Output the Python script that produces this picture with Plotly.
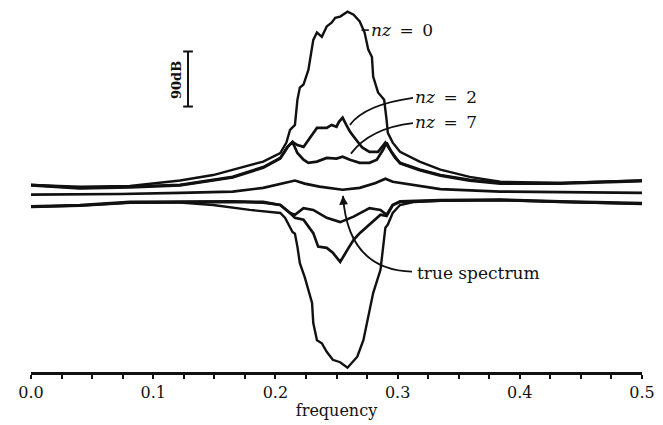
import plotly.graph_objects as go

# frequency (cycles/sample), level (dB, arbitrary offset)
nz0_upper = [(0.000,306),(0.040,303),(0.081,304),(0.122,313),(0.149,322),(0.165,331),(0.190,344),
             (0.204,358),(0.209,375),(0.212,396),(0.216,404),(0.218,445),(0.220,465),(0.223,470),
             (0.227,494),(0.231,543),(0.234,555),(0.238,548),(0.242,565),(0.246,571),(0.249,579),
             (0.253,581),(0.257,587),(0.259,589),(0.264,584),(0.269,573),(0.273,555),(0.276,527),
             (0.279,515),(0.280,483),(0.284,457),(0.287,450),(0.289,445),(0.291,412),(0.292,391),
             (0.296,375),(0.302,360),(0.318,344),(0.335,331),(0.359,319),(0.384,311),(0.433,309),
             (0.500,313)]

nz2_upper = [(0.000,306),(0.040,301),(0.081,303),(0.122,306),(0.165,319),(0.190,335),(0.204,350),
             (0.210,368),(0.214,376),(0.218,371),(0.223,368),(0.227,380),(0.231,391),(0.234,399),
             (0.238,399),(0.242,399),(0.246,404),(0.250,401),(0.252,409),(0.255,416),(0.258,404),
             (0.261,393),(0.264,385),(0.271,367),(0.277,360),(0.284,360),(0.290,375),(0.294,363),
             (0.298,350),(0.302,342),(0.318,331),(0.335,322),(0.359,314),(0.384,309),(0.433,309),
             (0.500,313)]

nz7_upper = [(0.000,305),(0.040,300),(0.081,302),(0.122,305),(0.165,318),(0.190,334),(0.204,349),
             (0.210,368),(0.214,376),(0.218,358),(0.223,347),(0.227,342),(0.234,344),(0.242,350),
             (0.250,349),(0.255,352),(0.261,347),(0.269,342),(0.277,342),(0.283,347),(0.288,363),
             (0.291,375),(0.295,360),(0.302,341),(0.318,330),(0.335,321),(0.359,313),(0.384,308),
             (0.433,308),(0.500,312)]

true_spectrum = [(0.000,290),(0.073,291),(0.122,293),(0.165,295),(0.190,301),(0.208,309),
                 (0.216,313),(0.224,308),(0.236,303),(0.255,298),(0.269,301),(0.282,309),
                 (0.290,316),(0.296,311),(0.302,309),(0.335,299),(0.384,295),(0.500,293)]

nz0_lower = [(0.000,270),(0.040,272),(0.081,277),(0.122,277),(0.149,273),(0.179,265),(0.204,260),
             (0.208,252),(0.214,229),(0.216,226),(0.218,205),(0.220,178),(0.224,155),(0.227,134),
             (0.230,113),(0.231,80),(0.234,52),(0.238,47),(0.242,33),(0.247,20),(0.253,16),
             (0.259,7),(0.267,25),(0.272,52),(0.277,101),(0.280,129),(0.286,167),(0.288,205),
             (0.290,236),(0.292,241),(0.296,260),(0.302,273),(0.313,278),(0.335,280),(0.384,281),
             (0.433,278),(0.500,275)]

nz2_lower = [(0.000,270),(0.040,272),(0.081,277),(0.122,278),(0.165,278),(0.190,277),(0.204,273),
             (0.212,260),(0.216,252),(0.223,249),(0.231,227),(0.235,205),(0.242,203),(0.247,195),
             (0.253,180),(0.259,200),(0.264,216),(0.269,227),(0.277,241),(0.286,257),(0.291,255),
             (0.296,273),(0.302,278),(0.335,280),(0.384,281),(0.433,278),(0.500,275)]

nz7_lower = [(0.000,271),(0.040,273),(0.081,278),(0.122,279),(0.165,279),(0.190,278),(0.204,273),
             (0.212,260),(0.216,257),(0.223,268),(0.231,265),(0.242,252),(0.253,245),(0.264,254),
             (0.277,268),(0.286,265),(0.291,257),(0.296,273),(0.302,279),(0.335,281),(0.384,282),
             (0.433,279),(0.500,276)]

tick_vals = [0.0, 0.1, 0.2, 0.3, 0.4, 0.5]
tick_text = ["0.0", "0.1", "0.2", "0.3", "0.4", "0.5"]

INK = "#111111"
SERIF = "DejaVu Serif"

fig = go.Figure()

def add(series, width):
    fig.add_trace(go.Scatter(
        x=[p[0] for p in series], y=[p[1] for p in series],
        mode="lines", line=dict(color=INK, width=width),
        hoverinfo="skip", showlegend=False))

add(nz0_upper, 2.4)
add(nz2_upper, 2.7)
add(nz7_upper, 2.7)
add(true_spectrum, 2.7)
add(nz0_lower, 2.4)
add(nz2_lower, 2.7)
add(nz7_lower, 2.7)

shapes = []
# 90 dB scale bar
bar_x, bar_lo, bar_hi = 0.1285, 434, 524
shapes.append(dict(type="line", xref="x", yref="y", x0=bar_x, x1=bar_x, y0=bar_lo, y1=bar_hi,
                   line=dict(color=INK, width=2)))
for yy in (bar_lo, bar_hi):
    shapes.append(dict(type="line", xref="x", yref="y", x0=bar_x - 0.004, x1=bar_x + 0.004,
                       y0=yy, y1=yy, line=dict(color=INK, width=2)))
# leader for nz = 0
shapes.append(dict(type="line", xref="x", yref="y", x0=0.2705, x1=0.2765, y0=559, y1=559,
                   line=dict(color=INK, width=1.6)))
# curved leaders
curves = [
    ((0.3126, 448), (0.2733, 437), (0.2610, 404)),   # nz = 2
    ((0.3126, 407), (0.2774, 399), (0.2618, 357)),   # nz = 7
    ((0.3118, 164), (0.2594, 167), (0.2553, 288)),   # true spectrum
]
for p0, c, p1 in curves:
    shapes.append(dict(type="path", xref="x", yref="y",
                       path=f"M {p0[0]},{p0[1]} Q {c[0]},{c[1]} {p1[0]},{p1[1]}",
                       line=dict(color=INK, width=1.8)))

annotations = []
for p0, c, p1 in curves:
    tx = p1[0] + (c[0] - p1[0]) * 0.08
    ty = p1[1] + (c[1] - p1[1]) * 0.08
    annotations.append(dict(x=p1[0], y=p1[1], ax=tx, ay=ty, xref="x", yref="y",
                            axref="x", ayref="y", text="", showarrow=True,
                            arrowhead=2, arrowsize=1.1, arrowwidth=1.6, arrowcolor=INK))

label_font = dict(family=SERIF, size=17, color=INK)
EQ = "\u2002=\u2002"
annotations += [
    dict(x=0.277, y=559, xref="x", yref="y", text="<i>nz</i>" + EQ + "0", showarrow=False,
         xanchor="left", yanchor="middle", font=label_font),
    dict(x=0.313, y=450, xref="x", yref="y", text="<i>nz</i>" + EQ + "2", showarrow=False,
         xanchor="left", yanchor="middle", font=label_font),
    dict(x=0.313, y=409, xref="x", yref="y", text="<i>nz</i>" + EQ + "7", showarrow=False,
         xanchor="left", yanchor="middle", font=label_font),
    dict(x=0.314, y=162, xref="x", yref="y", text="true spectrum", showarrow=False,
         xanchor="left", yanchor="middle", font=dict(family=SERIF, size=17, color=INK)),
    dict(x=0.1185, y=477, xref="x", yref="y", text="<b>90dB</b>", showarrow=False,
         textangle=-90, xanchor="center", yanchor="middle",
         font=dict(family=SERIF, size=13, color=INK)),
]

fig.update_layout(
    width=663, height=425,
    margin=dict(l=31, r=21, t=5, b=53),
    paper_bgcolor="white", plot_bgcolor="white",
    shapes=shapes, annotations=annotations,
    xaxis=dict(range=[0, 0.5], tickvals=tick_vals, ticktext=tick_text,
               showline=True, linecolor=INK, linewidth=2.8, mirror=False,
               ticks="outside", ticklen=4, tickwidth=1.6, tickcolor=INK,
               minor=dict(dtick=0.025, ticks="outside", ticklen=4, tickwidth=1.6, tickcolor=INK,
                          showgrid=False),
               showgrid=False, zeroline=False,
               tickfont=dict(family=SERIF, size=16, color=INK),
               title=dict(text="frequency", font=dict(family=SERIF, size=16, color=INK),
                          standoff=4)),
    yaxis=dict(range=[0, 600], visible=False, showgrid=False, zeroline=False),
)

fig.write_html("out.html", config={"displayModeBar": False},
               post_script="document.body.style.margin='0';document.body.style.overflow='hidden';")
